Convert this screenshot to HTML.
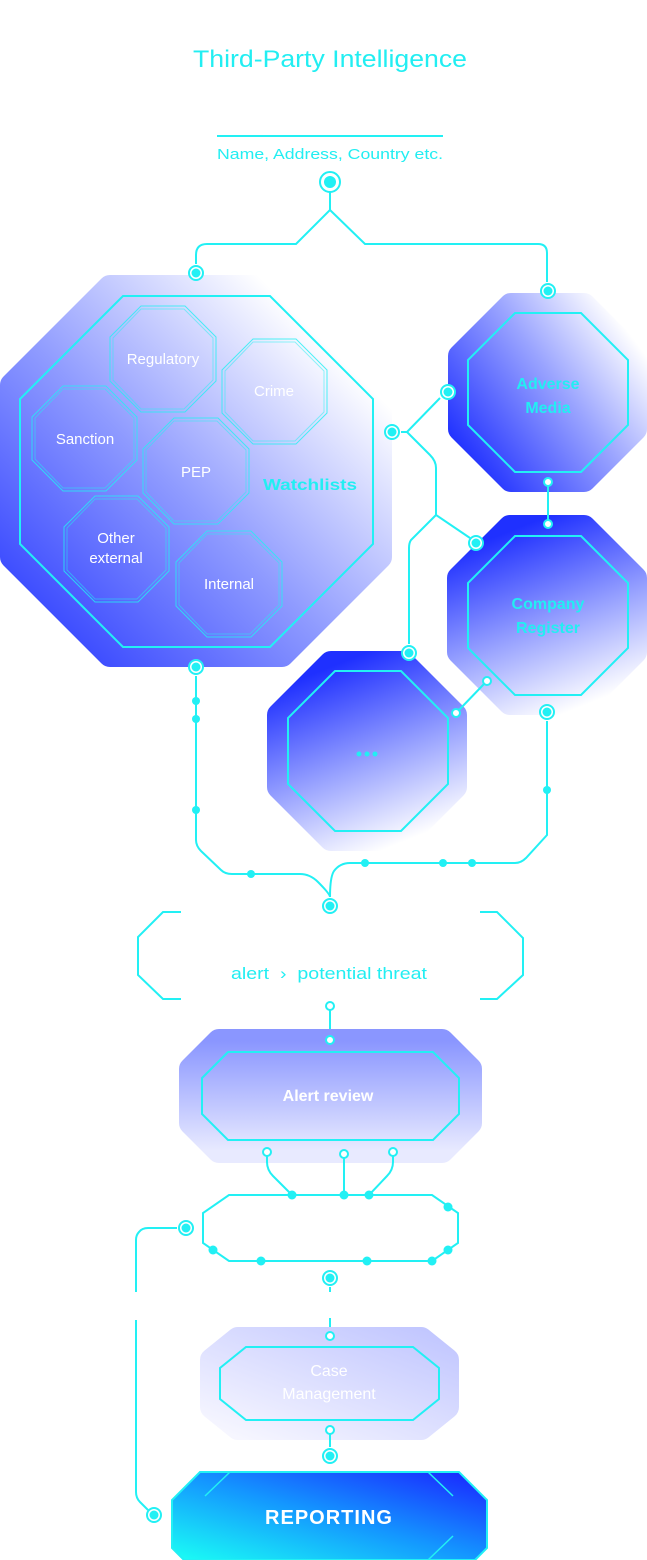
<!DOCTYPE html>
<html><head><meta charset="utf-8"><style>
html,body{margin:0;padding:0;background:#fff;}
svg{display:block;font-family:"Liberation Sans",sans-serif;}
</style></head><body>
<svg width="647" height="1560" viewBox="0 0 647 1560" xmlns="http://www.w3.org/2000/svg">
<defs>
<linearGradient id="gW" x1="0" y1="1" x2="1" y2="0"><stop offset="0" stop-color="#2536ff"/><stop offset="0.45" stop-color="#8f9bff"/><stop offset="0.85" stop-color="#fff"/></linearGradient>
<linearGradient id="gA" x1="0" y1="0.85" x2="1" y2="0.1"><stop offset="0" stop-color="#1f30ff"/><stop offset="0.55" stop-color="#9aa4ff"/><stop offset="0.95" stop-color="#fff"/></linearGradient>
<linearGradient id="gC" x1="0.35" y1="0" x2="0.75" y2="1"><stop offset="0" stop-color="#1f30ff"/><stop offset="0.55" stop-color="#9aa4ff"/><stop offset="1" stop-color="#fff"/></linearGradient>
<linearGradient id="gR" x1="0" y1="0" x2="0" y2="1"><stop offset="0" stop-color="#8a96ff"/><stop offset="1" stop-color="#e8eaff"/></linearGradient>
<linearGradient id="gM" x1="1" y1="0" x2="0" y2="1"><stop offset="0" stop-color="#c2c7ff"/><stop offset="1" stop-color="#f6f6ff"/></linearGradient>
<linearGradient id="gP" x1="0" y1="1" x2="1" y2="0"><stop offset="0" stop-color="#1afff5"/><stop offset="0.5" stop-color="#1496ff"/><stop offset="1" stop-color="#1a22ff"/></linearGradient>
</defs>
<g fill="none" stroke="#22f0f4" stroke-width="2">
<text x="193" y="67" fill="#22eef2" stroke="none" font-size="24" textLength="274" lengthAdjust="spacingAndGlyphs">Third-Party Intelligence</text>
<line x1="217" y1="136" x2="443" y2="136"/>
<text x="217" y="159" fill="#22eef2" stroke="none" font-size="15" textLength="226" lengthAdjust="spacingAndGlyphs">Name, Address, Country etc.</text>

<path d="M330 192 V210 L296 244 H207 Q196 244 196 255 V264"/>
<path d="M330 210 L365 244 H538 Q547 244 547 253 V282"/>

<polygon points="110,287 282,287 380,385 380,557 282,655 110,655 12,557 12,385" fill="url(#gW)" stroke="url(#gW)" stroke-width="24" stroke-linejoin="round"/>
<polygon points="123,296 270,296 373,399 373,544 270,647 123,647 20,544 20,399"/>
<g stroke-width="1" stroke-opacity="0.8">
<polygon points="141,306 185,306 216,337 216,381 185,412 141,412 110,381 110,337"/>
<polygon points="253,339 296,339 327,370 327,413 296,444 253,444 222,413 222,370"/>
<polygon points="63,386 106,386 137,417 137,460 106,491 63,491 32,460 32,417"/>
<polygon points="174,418 218,418 249,449 249,493 218,524 174,524 143,493 143,449"/>
<polygon points="95,496 138,496 169,527 169,571 138,602 95,602 64,571 64,527"/>
<polygon points="207,531 251,531 282,562 282,606 251,637 207,637 176,606 176,562"/>
</g>
<g stroke-width="1" stroke-opacity="0.5">
<polygon points="141,309 184,309 213,338 213,380 184,409 141,409 113,380 113,338"/>
<polygon points="253,342 295,342 324,371 324,412 295,441 253,441 225,412 225,371"/>
<polygon points="63,389 105,389 134,418 134,459 105,488 63,488 35,459 35,418"/>
<polygon points="174,421 217,421 246,450 246,492 217,521 174,521 146,492 146,450"/>
<polygon points="95,499 137,499 166,528 166,570 137,599 95,599 67,570 67,528"/>
<polygon points="207,534 250,534 279,563 279,605 250,634 207,634 179,605 179,563"/>
</g>
<g fill="#fff" stroke="none" font-size="15" text-anchor="middle">
<text x="163" y="364">Regulatory</text>
<text x="274" y="396">Crime</text>
<text x="85" y="444">Sanction</text>
<text x="196" y="477">PEP</text>
<text x="116" y="543">Other</text>
<text x="116" y="563">external</text>
<text x="229" y="589">Internal</text>
</g>
<text x="263" y="490" fill="#22eef2" stroke="none" font-size="16" font-weight="bold" textLength="94" lengthAdjust="spacingAndGlyphs">Watchlists</text>

<polygon points="511,305 584,305 635,356 635,429 584,480 511,480 460,429 460,356" fill="url(#gA)" stroke="url(#gA)" stroke-width="24" stroke-linejoin="round"/>
<polygon points="515,313 581,313 628,360 628,425 581,472 515,472 468,425 468,360"/>
<text x="548" y="389" fill="#22eef2" stroke="none" font-size="16" font-weight="bold" text-anchor="middle">Adverse</text>
<text x="548" y="413" fill="#22eef2" stroke="none" font-size="16" font-weight="bold" text-anchor="middle">Media</text>

<polygon points="510,527 584,527 635,578 635,652 584,703 510,703 459,652 459,578" fill="url(#gC)" stroke="url(#gC)" stroke-width="24" stroke-linejoin="round"/>
<polygon points="515,536 581,536 628,583 628,648 581,695 515,695 468,648 468,583"/>
<text x="548" y="609" fill="#22eef2" stroke="none" font-size="16" font-weight="bold" text-anchor="middle">Company</text>
<text x="548" y="633" fill="#22eef2" stroke="none" font-size="16" font-weight="bold" text-anchor="middle">Register</text>

<polygon points="331,663 403,663 455,715 455,787 403,839 331,839 279,787 279,715" fill="url(#gC)" stroke="url(#gC)" stroke-width="24" stroke-linejoin="round"/>
<polygon points="335,671 401,671 448,718 448,784 401,831 335,831 288,784 288,718"/>
<g fill="#22eef2" stroke="none"><circle cx="359" cy="754" r="2.5"/><circle cx="367" cy="754" r="2.5"/><circle cx="375" cy="754" r="2.5"/></g>

<path d="M401 432 H407 L440 398"/>
<path d="M407 432 L430 455 Q436 461 436 468 V515 L470 538"/>
<path d="M436 515 L411 540 Q409 543 409 548 V644"/>
<line x1="548" y1="486" x2="548" y2="520"/>
<line x1="484" y1="684" x2="459" y2="710"/>

<path d="M196 676 V840 Q196 846 201 851 L221 870 Q225 874 232 874 H300 Q310 874 318 882 Q330 894 330 897"/>
<path d="M547 721 V835 L526 858 Q521 863 515 863 H350 Q340 863 334 871 Q330 877 330 897"/>
<g fill="#22f0f4" stroke="none">
<circle cx="196" cy="701" r="4"/><circle cx="196" cy="719" r="4"/><circle cx="196" cy="810" r="4"/>
<circle cx="251" cy="874" r="4"/><circle cx="365" cy="863" r="4"/><circle cx="443" cy="863" r="4"/><circle cx="472" cy="863" r="4"/><circle cx="547" cy="790" r="4"/>
</g>

<polyline points="181,912 163,912 138,937 138,975 163,999 181,999"/>
<polyline points="480,912 497,912 523,938 523,975 497,999 480,999"/>
<text x="231" y="979" fill="#22eef2" stroke="none" font-size="17" textLength="196" lengthAdjust="spacingAndGlyphs" xml:space="preserve">alert  ›  potential threat</text>
<line x1="330" y1="1010" x2="330" y2="1036"/>

<polygon points="219,1041 442,1041 470,1069 470,1123 442,1151 219,1151 191,1123 191,1069" fill="url(#gR)" stroke="url(#gR)" stroke-width="24" stroke-linejoin="round"/>
<polygon points="228,1052 433,1052 459,1078 459,1114 433,1140 228,1140 202,1114 202,1078"/>
<text x="328" y="1101" fill="#fff" stroke="none" font-size="16" font-weight="bold" text-anchor="middle">Alert review</text>

<path d="M267 1156 V1162 Q267 1170 273 1176 L292 1195"/>
<line x1="344" y1="1158" x2="344" y2="1195"/>
<path d="M393 1156 V1162 Q393 1170 387 1176 L369 1195"/>
<polygon points="229,1195 432,1195 458,1213 458,1243 432,1261 229,1261 203,1243 203,1213"/>
<g fill="#22f0f4" stroke="none">
<circle cx="292" cy="1195" r="4.5"/><circle cx="344" cy="1195" r="4.5"/><circle cx="369" cy="1195" r="4.5"/><circle cx="448" cy="1207" r="4.5"/>
<circle cx="213" cy="1250" r="4.5"/><circle cx="261" cy="1261" r="4.5"/><circle cx="367" cy="1261" r="4.5"/><circle cx="432" cy="1261" r="4.5"/><circle cx="448" cy="1250" r="4.5"/>
</g>
<line x1="330" y1="1287" x2="330" y2="1292"/>
<line x1="330" y1="1318" x2="330" y2="1332"/>

<path d="M177 1228 H148 Q142 1228 139 1232 Q136 1235 136 1240 V1292"/>
<path d="M136 1320 V1492 Q136 1498 140 1502 L148 1510"/>

<polygon points="238,1339 421,1339 447,1360 447,1407 421,1428 238,1428 212,1407 212,1360" fill="url(#gM)" stroke="url(#gM)" stroke-width="24" stroke-linejoin="round"/>
<polygon points="246,1347 413,1347 439,1368 439,1399 413,1420 246,1420 220,1399 220,1368"/>
<text x="329" y="1376" fill="#fff" stroke="none" font-size="16" text-anchor="middle">Case</text>
<text x="329" y="1399" fill="#fff" stroke="none" font-size="16" text-anchor="middle">Management</text>
<line x1="330" y1="1434" x2="330" y2="1447"/>

<polygon points="200,1472 459,1472 487,1500 487,1548 475,1560 184,1560 172,1548 172,1500" fill="url(#gP)"/>
<line x1="205" y1="1496" x2="230" y2="1472" stroke-width="1.5"/>
<line x1="428" y1="1472" x2="453" y2="1496" stroke-width="1.5"/>
<line x1="428" y1="1560" x2="453" y2="1536" stroke-width="1.5"/>
<text x="329" y="1524" fill="#fff" stroke="none" font-size="20" font-weight="bold" letter-spacing="1" text-anchor="middle">REPORTING</text>

<g fill="#fff">
<circle cx="330" cy="182" r="10"/><circle cx="196" cy="273" r="7"/><circle cx="548" cy="291" r="7"/>
<circle cx="392" cy="432" r="7"/><circle cx="448" cy="392" r="7"/><circle cx="476" cy="543" r="7"/>
<circle cx="409" cy="653" r="7"/><circle cx="196" cy="667" r="7"/><circle cx="547" cy="712" r="7"/>
<circle cx="330" cy="906" r="7"/><circle cx="186" cy="1228" r="7"/><circle cx="330" cy="1278" r="7"/>
<circle cx="330" cy="1456" r="7"/><circle cx="154" cy="1515" r="7"/>
</g>
<g fill="#22f0f4" stroke="none">
<circle cx="330" cy="182" r="6"/><circle cx="196" cy="273" r="4.5"/><circle cx="548" cy="291" r="4.5"/>
<circle cx="392" cy="432" r="4.5"/><circle cx="448" cy="392" r="4.5"/><circle cx="476" cy="543" r="4.5"/>
<circle cx="409" cy="653" r="4.5"/><circle cx="196" cy="667" r="4.5"/><circle cx="547" cy="712" r="4.5"/>
<circle cx="330" cy="906" r="4.5"/><circle cx="186" cy="1228" r="4.5"/><circle cx="330" cy="1278" r="4.5"/>
<circle cx="330" cy="1456" r="4.5"/><circle cx="154" cy="1515" r="4.5"/>
</g>
<g fill="#fff">
<circle cx="548" cy="482" r="4"/><circle cx="548" cy="524" r="4"/><circle cx="487" cy="681" r="4"/><circle cx="456" cy="713" r="4"/>
<circle cx="330" cy="1006" r="4"/><circle cx="330" cy="1040" r="4"/>
<circle cx="267" cy="1152" r="4"/><circle cx="344" cy="1154" r="4"/><circle cx="393" cy="1152" r="4"/>
<circle cx="330" cy="1336" r="4"/><circle cx="330" cy="1430" r="4"/>
</g>
</g>
</svg>
</body></html>
